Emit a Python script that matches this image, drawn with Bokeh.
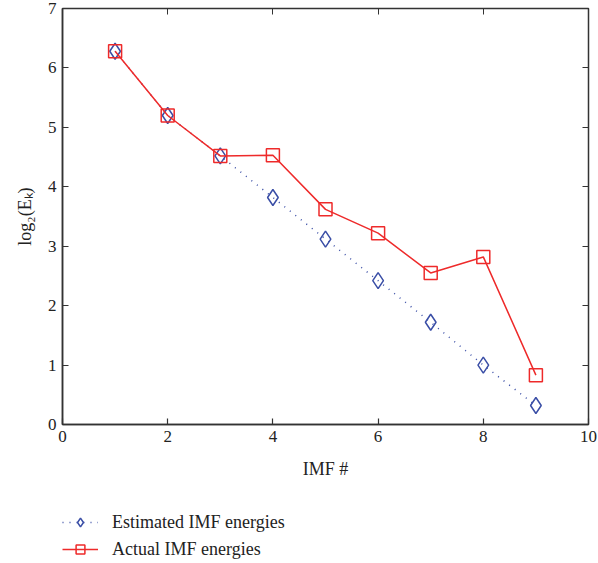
from bokeh.plotting import figure
from bokeh.layouts import column
from bokeh.models import Legend, LegendItem, LinearAxis, CustomJSTickFormatter, FixedTicker
from bokeh.embed import file_html
from bokeh.resources import INLINE

imf = [1, 2, 3, 4, 5, 6, 7, 8, 9]
estimated = [6.28, 5.20, 4.52, 3.82, 3.12, 2.42, 1.72, 1.00, 0.32]
actual = [6.28, 5.20, 4.52, 4.53, 3.62, 3.22, 2.55, 2.82, 0.83]
x_ticks = [0, 2, 4, 6, 8, 10]
y_ticks = [0, 1, 2, 3, 4, 5, 6, 7]
labels = ["Estimated IMF energies", "Actual IMF energies"]

FONT = "Liberation Serif"
BLUE = "#3a4ea6"
RED = "#ee2a2a"

p = figure(frame_width=526, frame_height=416, x_range=(0, 10), y_range=(0, 7),
           output_backend="svg", toolbar_location=None,
           x_axis_label="IMF #", y_axis_label="log₂(Eₖ)")
p.min_border_left = 62
p.min_border_right = 10
p.min_border_top = 8
p.min_border_bottom = 76
p.grid.visible = False
p.outline_line_color = "#333333"
p.outline_line_width = 1.5
p.background_fill_color = "white"
p.border_fill_color = "white"

for ax in p.axis:
    ax.major_label_text_font = FONT
    ax.major_label_text_font_size = "17px"
    ax.major_label_text_color = "#222222"
    ax.axis_label_text_font = FONT
    ax.axis_label_text_font_size = "18px"
    ax.axis_label_text_font_style = "normal"
    ax.axis_label_text_color = "#222222"
    ax.major_tick_in = 6
    ax.major_tick_out = 0
    ax.minor_tick_in = 0
    ax.minor_tick_out = 0
    ax.axis_line_color = "#333333"
    ax.axis_line_width = 1.5
    ax.major_tick_line_color = "#333333"
    ax.major_tick_line_width = 1.2
    ax.major_label_standoff = 6
p.xaxis.ticker = FixedTicker(ticks=x_ticks)
p.yaxis.ticker = FixedTicker(ticks=y_ticks)
p.xaxis.axis_label_standoff = 14
p.yaxis.axis_label_standoff = 10

blank = CustomJSTickFormatter(code="return ''")
top = LinearAxis(ticker=FixedTicker(ticks=x_ticks), formatter=blank,
                 major_tick_in=6, major_tick_out=0, minor_tick_in=0, minor_tick_out=0,
                 axis_line_color="#333333", major_tick_line_color="#333333",
                 major_label_text_font_size="1px", major_label_standoff=0)
right = LinearAxis(ticker=FixedTicker(ticks=y_ticks), formatter=blank,
                   major_tick_in=6, major_tick_out=0, minor_tick_in=0, minor_tick_out=0,
                   axis_line_color="#333333", major_tick_line_color="#333333",
                   major_label_text_font_size="1px", major_label_standoff=0)
p.add_layout(top, "above")
p.add_layout(right, "right")

est_style = dict(line_color=BLUE, line_width=1.5, line_dash="1 6")
est_mark = dict(marker="diamond", size=16, fill_color=None, line_color=BLUE, line_width=1.5)
act_style = dict(line_color=RED, line_width=1.5)
act_mark = dict(marker="square", size=13, fill_color=None, line_color=RED, line_width=1.5)

p.line(imf, estimated, **est_style)
p.scatter(imf, estimated, **est_mark)
p.line(imf, actual, **act_style)
p.scatter(imf, actual, **act_mark)

# Legend panel below the chart
q = figure(width=598, height=63, x_range=(0, 10), y_range=(0, 7),
           output_backend="svg", toolbar_location=None)
q.axis.visible = False
q.grid.visible = False
q.outline_line_color = None
q.min_border = 0
q.border_fill_color = "white"
ql1 = q.line(imf, estimated, visible=False, **est_style)
qs1 = q.scatter(imf, estimated, visible=False, **est_mark)
ql2 = q.line(imf, actual, visible=False, **act_style)
qs2 = q.scatter(imf, actual, visible=False, **act_mark)

legend = Legend(items=[
    LegendItem(label=labels[0], renderers=[ql1, qs1]),
    LegendItem(label=labels[1], renderers=[ql2, qs2]),
], location=(0, 3))
legend.label_text_font = FONT
legend.label_text_font_size = "18px"
legend.label_text_color = "#222222"
legend.border_line_color = None
legend.background_fill_alpha = 0
legend.glyph_width = 36
legend.glyph_height = 22
legend.label_height = 22
legend.spacing = 5
legend.margin = 0
legend.padding = 0
legend.label_standoff = 14
q.add_layout(legend, "center")

layout = column(p, q, spacing=0)
open("out.html", "w").write(file_html(layout, INLINE))
